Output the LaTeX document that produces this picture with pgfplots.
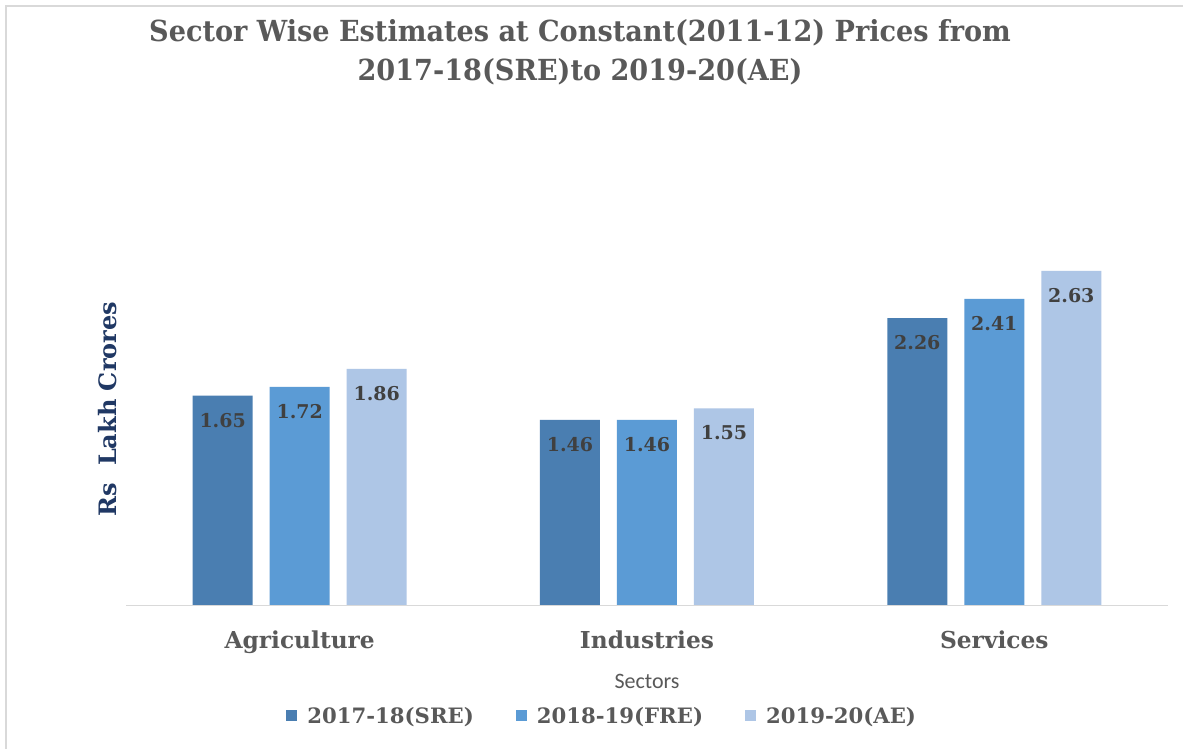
\documentclass[border=0pt]{standalone}
\usepackage{pgfplots}
\pgfplotsset{compat=1.18}
\usepackage{fontspec}
\setmainfont{Carlito}
\newfontfamily\slab[FakeStretch=0.935]{DejaVu Serif}
\newfontfamily\slabw{DejaVu Serif}
\definecolor{cA}{HTML}{4A7EB1}
\definecolor{cB}{HTML}{5B9BD5}
\definecolor{cC}{HTML}{AEC6E6}
\definecolor{txt}{HTML}{595959}
\definecolor{lab}{HTML}{404040}
\definecolor{navy}{HTML}{203864}
\definecolor{brd}{HTML}{D9D9D9}
\begin{document}
\begin{tikzpicture}[x=1pt,y=1pt]
\useasboundingbox (0,0) rectangle (1183,749);
\fill[white] (0,0) rectangle (1183,749);
\draw[brd,line width=2pt] (6,0) -- (6,743) -- (1183,743);
\node[txt,font=\slab\bfseries\fontsize{29}{34}\selectfont] at (580,716) {Sector Wise Estimates at Constant(2011-12) Prices from};
\node[txt,font=\slab\bfseries\fontsize{29}{34}\selectfont] at (580,677) {2017-18(SRE)to 2019-20(AE)};
\node[navy,rotate=90,font=\slabw\bfseries\fontsize{24}{28}\selectfont] at (108,340) {Rs\ \ Lakh Crores};
\node[txt,font=\fontsize{22}{26}\selectfont] at (647,68) {Sectors};
\begin{axis}[
  at={(126pt,143pt)}, anchor=south west,
  scale only axis, width=1042pt, height=446pt,
  xmin=-0.5, xmax=2.5, ymin=0, ymax=3.5,
  axis line style={draw=none},
  major tick length=0pt,
  ytick=\empty,
  xtick={0,1,2},
  xticklabels={Agriculture,Industries,Services},
  xticklabel style={txt,font=\slabw\bfseries\fontsize{23.3}{27}\selectfont,anchor=north,inner sep=0pt,yshift=-25pt},
  ybar, bar width=0.1727,
  nodes near coords,
  every node near coord/.append style={lab,font=\slabw\bfseries\fontsize{19}{23}\selectfont,anchor=north,inner sep=0pt,yshift=-17pt},
  nodes near coords={\pgfmathprintnumber[fixed,precision=2,fixed zerofill,assume math mode=true]{\pgfplotspointmeta}},
  legend style={draw=none,fill=none,at={(0.457,-0.2466)},anchor=center,
    font=\slabw\bfseries\fontsize{21.2}{25}\selectfont,text=txt,
    legend columns=3,
    /tikz/every odd column/.append style={column sep=8pt},
    /tikz/every even column/.append style={column sep=40pt}},
  legend cell align=left,
  legend image code/.code={\fill[#1] (0pt,-5.5pt) rectangle (11pt,5.5pt);},
]
\addplot[fill=cA,draw=none,bar shift=-0.2217] coordinates {(0,1.65) (1,1.46) (2,2.26)};
\addplot[fill=cB,draw=none,bar shift=0] coordinates {(0,1.72) (1,1.46) (2,2.41)};
\addplot[fill=cC,draw=none,bar shift=0.2217] coordinates {(0,1.86) (1,1.55) (2,2.63)};
\legend{2017-18(SRE),2018-19(FRE),2019-20(AE)}
\draw[brd,line width=1.8pt] (axis cs:-0.5,0) -- (axis cs:2.5,0);
\end{axis}
\end{tikzpicture}
\end{document}
